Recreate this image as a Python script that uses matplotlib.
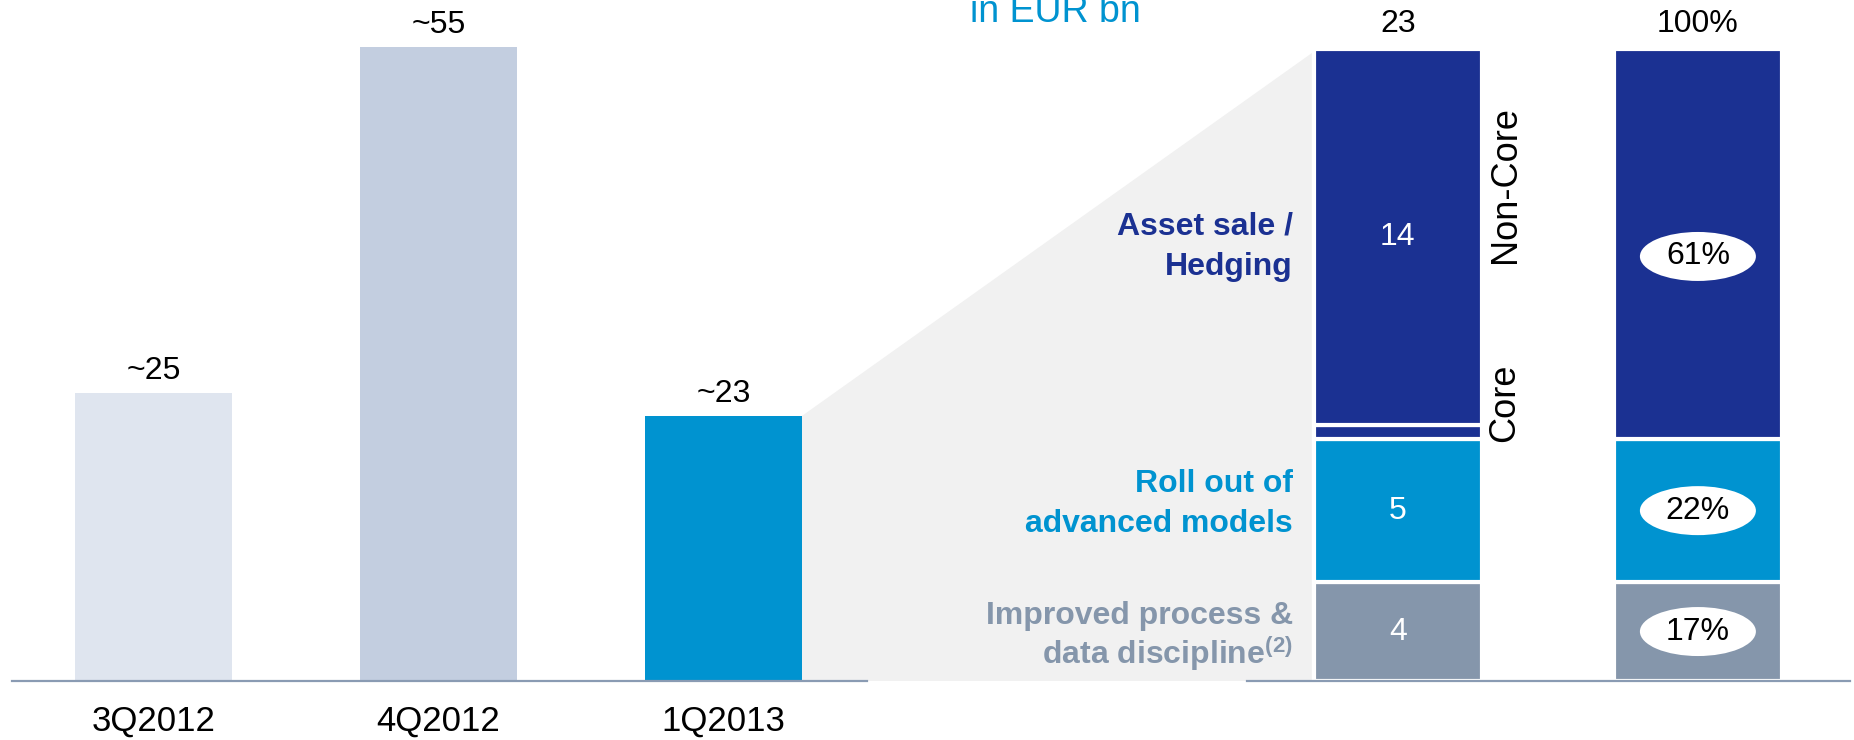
import matplotlib
matplotlib.use('Agg')
import matplotlib.pyplot as plt
from matplotlib.patches import Ellipse, Polygon

plt.rcParams['font.family'] = ['Liberation Sans', 'DejaVu Sans']
plt.rcParams['mathtext.fontset'] = 'custom'
plt.rcParams['mathtext.rm'] = 'Liberation Sans:bold'
plt.rcParams['mathtext.it'] = 'Liberation Sans:bold'

# left chart: RWA reduction per quarter
quarters = ['3Q2012', '4Q2012', '1Q2013']
quarter_vals = [25, 55, 23]
quarter_labels = ['~25', '~55', '~23']
quarter_colors = ['#DFE5EF', '#C3CEE0', '#0093D0']

# right chart: split of the 1Q2013 amount (segment heights as drawn, bottom to top)
seg_names = ['Improved process & data discipline', 'Roll out of advanced models', 'Core', 'Non-Core']
seg_heights = [3.6, 5.2, 0.5, 13.7]
seg_labels = ['4', '5', '', '14']
total_label = '23'
pct_labels = ['17%', '22%', '61%']
pct_total_label = '100%'

DARK = '#1B3192'
LIGHT = '#0093D0'
GREY = '#8596AB'
AXIS = '#8A9BB3'
seg_colors = [GREY, LIGHT, DARK, DARK]

W, H = 1854, 740
fig = plt.figure(figsize=(W / 100, H / 100), dpi=100)

ax1 = fig.add_axes([12 / W, (H - 681) / H, 855 / W, 634 / H])
ax2 = fig.add_axes([1247 / W, (H - 681) / H, 603 / W, 632 / H])

for ax in (ax1, ax2):
    ax.patch.set_visible(False)
    for s in ['top', 'right', 'left']:
        ax.spines[s].set_visible(False)
    ax.spines['bottom'].set_color(AXIS)
    ax.spines['bottom'].set_linewidth(1.6)
    ax.set_yticks([])
    ax.tick_params(axis='x', length=0)

# ---- left bars
bw = 0.551
x = list(range(len(quarters)))
ax1.bar(x, quarter_vals, width=bw, color=quarter_colors)
ax1.set_xlim(-0.4965, 2.5035)
ax1.set_ylim(0, 55)
ax1.set_xticks(x)
ax1.set_xticklabels(quarters, fontsize=25)
ax1.tick_params(axis='x', pad=17)
for xi, v, lbl in zip(x, quarter_vals, quarter_labels):
    ax1.annotate(lbl, (xi, v), xytext=(0, 16), textcoords='offset points',
                 ha='center', va='center', fontsize=23)

# ---- right stacked bars
sw = 0.56
total = sum(seg_heights)
ax2.set_xlim(-0.503, 1.507)
ax2.set_ylim(0, total)
ax2.set_xticks([])

bottom = 0
mids = []
for h, c, lbl in zip(seg_heights, seg_colors, seg_labels):
    ax2.bar(0, h, bottom=bottom, width=sw, color=c, edgecolor='white', linewidth=3)
    mids.append(bottom + h / 2)
    if lbl:
        ax2.text(0, bottom + h / 2, lbl, ha='center', va='center', color='white', fontsize=23)
    bottom += h

# percentage bar: core merged into non-core
pct_heights = [seg_heights[0], seg_heights[1], seg_heights[2] + seg_heights[3]]
pct_colors = [GREY, LIGHT, DARK]
pct_shift = [0, 0, -0.45]
bottom = 0
for h, c, lbl, dy in zip(pct_heights, pct_colors, pct_labels, pct_shift):
    ax2.bar(1, h, bottom=bottom, width=sw, color=c, edgecolor='white', linewidth=3)
    yc = bottom + h / 2 + dy
    ax2.add_patch(Ellipse((1, yc), width=116 / 300, height=49 / 27.48,
                          facecolor='white', edgecolor='none', zorder=3))
    ax2.text(1, yc, lbl, ha='center', va='center', fontsize=23, zorder=4)
    bottom += h

ax2.annotate(total_label, (0, total), xytext=(0, 18), textcoords='offset points',
             ha='center', va='center', fontsize=23)
ax2.annotate(pct_total_label, (1, total), xytext=(0, 18), textcoords='offset points',
             ha='center', va='center', fontsize=23)

# category labels left of the bar
lx = -0.35
ax2.text(lx, mids[3] - 0.35, 'Asset sale /\nHedging', ha='right', va='center',
         fontsize=23, fontweight='bold', color=DARK, linespacing=1.45)
ax2.text(lx, mids[1] + 0.25, 'Roll out of\nadvanced models', ha='right', va='center',
         fontsize=23, fontweight='bold', color=LIGHT, linespacing=1.45)
ax2.text(lx, mids[0] - 0.2, 'Improved process &\ndata discipline$^{(2)}$', ha='right', va='center',
         fontsize=23, fontweight='bold', color=GREY, linespacing=1.1)

# Core / Non-Core side labels
ax2.text(0.357, seg_heights[0] + seg_heights[1] - 0.1, 'Core', rotation=90,
         ha='center', va='bottom', fontsize=26)
ax2.text(0.357, 18.05, 'Non-Core', rotation=90, ha='center', va='center', fontsize=26)

# grey connector between the 1Q2013 bar and the breakdown
inv = fig.transFigure.inverted()
p1 = ax1.transData.transform((2 + bw / 2, 0))
p2 = ax1.transData.transform((2 + bw / 2, quarter_vals[2]))
p3 = ax2.transData.transform((-sw / 2, total))
p4 = ax2.transData.transform((-sw / 2, 0))
p3[0] -= 2
p4[0] -= 2
p3[1] -= 4
pts = inv.transform([p1, p2, p3, p4])
fig.add_artist(Polygon(pts, closed=True, facecolor='#F1F1F1', edgecolor='none',
                       transform=fig.transFigure, zorder=-1))

fig.text(1055 / W, (H - 22) / H, 'in EUR bn', ha='center', va='baseline',
         color=LIGHT, fontsize=27)

fig.savefig('out.png', dpi=100)
